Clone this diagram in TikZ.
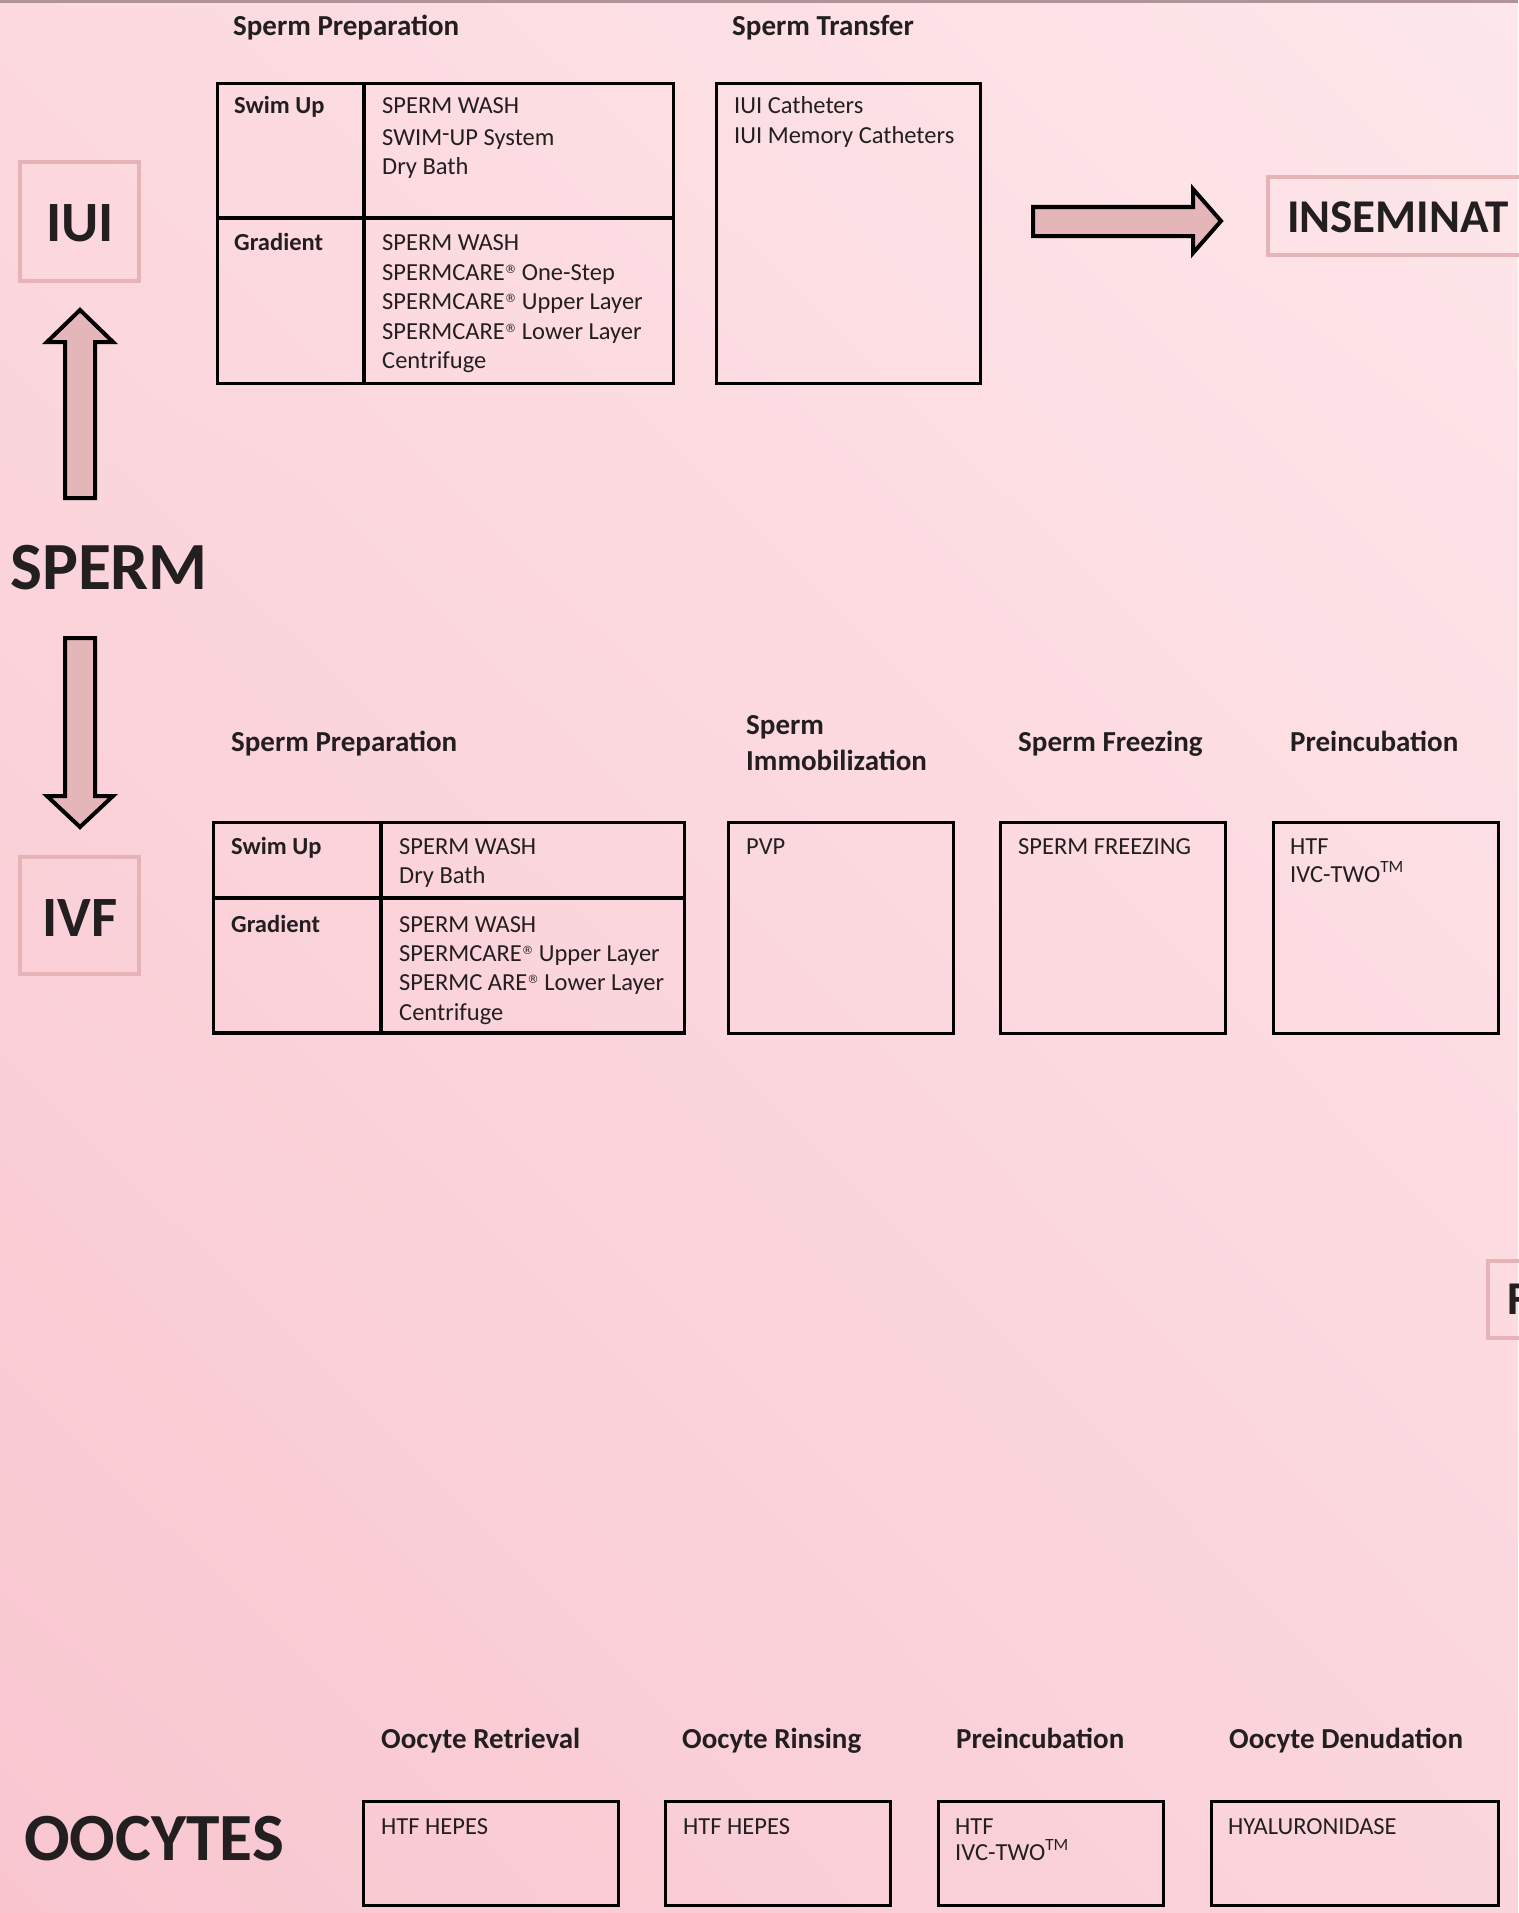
\documentclass[tikz,border=0pt]{standalone}
\usepackage{fontspec}
\usetikzlibrary{shadings}
\setmainfont{Carlito}
\newfontfamily\symfont{DejaVu Sans}
\definecolor{ink}{HTML}{231F20}
\definecolor{pinkline}{HTML}{E6B3B7}
\definecolor{arrowfill}{HTML}{E4B6B9}
\definecolor{topline}{HTML}{B0939A}
\definecolor{bgul}{HTML}{FCD9DF}
\definecolor{bgur}{HTML}{FDE7EA}
\definecolor{bgll}{HTML}{F9C6D0}
\definecolor{bglr}{HTML}{FBD5DC}
\newcommand{\regm}{\raisebox{7pt}{\symfont\fontsize{11.5}{11.5}\selectfont ®}}
\newcommand{\tmk}{\textsuperscript{TM}}
\tikzset{
  cell/.style={anchor=base west, inner sep=0pt, text=ink, font=\fontsize{24.5}{29}\selectfont},
  cellb/.style={anchor=base west, inner sep=0pt, text=ink, font=\bfseries\fontsize{24.5}{29}\selectfont},
  head/.style={anchor=base west, inner sep=0pt, text=ink, font=\bfseries\fontsize{29}{35}\selectfont},
  bigword/.style={anchor=base west, inner sep=0pt, text=ink, font=\bfseries\fontsize{67.5}{70}\selectfont},
  midword/.style={anchor=base, inner sep=0pt, text=ink, font=\bfseries\fontsize{57}{60}\selectfont},
  sideword/.style={anchor=base west, inner sep=0pt, text=ink, font=\bfseries\fontsize{47}{50}\selectfont},
  boxline/.style={draw=black, line width=3.3pt},
  pinkbox/.style={draw=pinkline, line width=4.5pt},
  blockarrow/.style={draw=black, fill=arrowfill, line width=4pt, line join=miter},
}
\begin{document}
\begin{tikzpicture}[x=1pt,y=1pt]
\useasboundingbox (0,0) rectangle (1518,-1913);
\shade[upper left=bgul, upper right=bgur, lower left=bgll, lower right=bglr] (0,0) rectangle (1518,-1913);
\fill[topline] (0,0) rectangle (1518,-3.5);

% ---------- IUI section ----------
\node[head] (hprep1) at (233,-36) {Sperm Preparation};
\node[head] (htrans) at (732,-36) {Sperm Transfer};

\draw[boxline] (217.5,-83.5) rectangle (673.5,-383.5);
\draw[boxline] (364,-83.5) -- (364,-383.5);
\draw[boxline] (217.5,-218) -- (673.5,-218);
\node[cellb] (swim1) at (234,-114) {Swim Up};
\node[cell] (s1a) at (382,-114) {SPERM WASH};
\node[cell] (s1b) at (382,-146) {SWIM\raisebox{0.35ex}{-}UP System};
\node[cell] (s1c) at (382,-175) {Dry Bath};
\node[cellb] (grad1) at (234,-250) {Gradient};
\node[cell] (g1a) at (382,-250) {SPERM WASH};
\node[cell] (g1b) at (382,-280) {SPERMCARE\regm{} One-Step};
\node[cell] (g1c) at (382,-309) {SPERMCARE\regm{} Upper Layer};
\node[cell] (g1d) at (382,-339) {SPERMCARE\regm{} Lower Layer};
\node[cell] (g1e) at (382,-368) {Centrifuge};

\draw[boxline] (716.5,-83.5) rectangle (980.5,-383.5);
\node[cell] (c1) at (734,-114) {IUI Catheters};
\node[cell] (c2) at (734,-144) {IUI Memory Catheters};

\draw[blockarrow] (1033,-207) -- (1193,-207) -- (1193,-189) -- (1221,-221)
  -- (1193,-253) -- (1193,-236) -- (1033,-236) -- cycle;
\draw[pinkbox] (1268,-177) rectangle (1570,-255);
\node[sideword] (insem) at (1287,-232) {INSEMINAT};

\draw[pinkbox] (20,-162) rectangle (139,-281);
\node[midword] (iui) at (80,-241) {IUI};

\draw[blockarrow] (65,-498) -- (65,-342) -- (47,-342) -- (80,-310)
  -- (113,-342) -- (95,-342) -- (95,-498) -- cycle;

\node[bigword] (sperm) at (10,-589) {SPERM};

\draw[blockarrow] (65,-638) -- (95,-638) -- (95,-796) -- (113,-796)
  -- (80,-827) -- (47,-796) -- (65,-796) -- cycle;

% ---------- IVF section ----------
\draw[pinkbox] (20,-857) rectangle (139,-974);
\node[midword] (ivf) at (80,-936) {IVF};

\node[head] (hprep2) at (231,-751) {Sperm Preparation};
\node[head] (himm1) at (746,-734) {Sperm};
\node[head] (himm2) at (746,-770) {Immobilization};
\node[head] (hfrz) at (1018,-751) {Sperm Freezing};
\node[head] (hpre1) at (1290,-751) {Preincubation};

\draw[boxline] (213.5,-822.5) rectangle (684.5,-1033);
\draw[boxline] (381,-822.5) -- (381,-1033);
\draw[boxline] (213.5,-898) -- (684.5,-898);
\node[cellb] (swim2) at (231,-854) {Swim Up};
\node[cell] (s2a) at (399,-854) {SPERM WASH};
\node[cell] (s2b) at (399,-883) {Dry Bath};
\node[cellb] (grad2) at (231,-932) {Gradient};
\node[cell] (g2a) at (399,-932) {SPERM WASH};
\node[cell] (g2b) at (399,-961) {SPERMCARE\regm{} Upper Layer};
\node[cell] (g2c) at (399,-990) {SPERMC ARE\regm{} Lower Layer};
\node[cell] (g2d) at (399,-1020) {Centrifuge};

\draw[boxline] (728.5,-822.5) rectangle (953.5,-1033.5);
\node[cell] (pvp) at (746,-854) {PVP};
\draw[boxline] (1000.5,-822.5) rectangle (1225.5,-1033.5);
\node[cell] (frz) at (1018,-854) {SPERM FREEZING};
\draw[boxline] (1273.5,-822.5) rectangle (1498.5,-1033.5);
\node[cell] (pre1a) at (1290,-854) {HTF};
\node[cell] (pre1b) at (1290,-882) {IVC-TWO\tmk};

\draw[pinkbox] (1488,-1261) rectangle (1570,-1338);
\node[sideword] (fword) at (1507,-1314) {F};

% ---------- Oocytes section ----------
\node[bigword] (oocytes) at (24,-1860) {OOCYTES};
\node[head] (hret) at (381,-1748) {Oocyte Retrieval};
\node[head] (hrin) at (682,-1748) {Oocyte Rinsing};
\node[head] (hpre2) at (956,-1748) {Preincubation};
\node[head] (hden) at (1229,-1748) {Oocyte Denudation};

\draw[boxline] (363.5,-1801.5) rectangle (618.5,-1905.5);
\node[cell] (ret) at (381,-1834) {HTF HEPES};
\draw[boxline] (665.5,-1801.5) rectangle (890.5,-1905.5);
\node[cell] (rin) at (683,-1834) {HTF HEPES};
\draw[boxline] (938.5,-1801.5) rectangle (1163.5,-1905.5);
\node[cell] (pre2a) at (955,-1834) {HTF};
\node[cell] (pre2b) at (955,-1860) {IVC-TWO\tmk};
\draw[boxline] (1211.5,-1801.5) rectangle (1498.5,-1905.5);
\node[cell] (den) at (1228,-1834) {HYALURONIDASE};
\end{tikzpicture}
\end{document}
